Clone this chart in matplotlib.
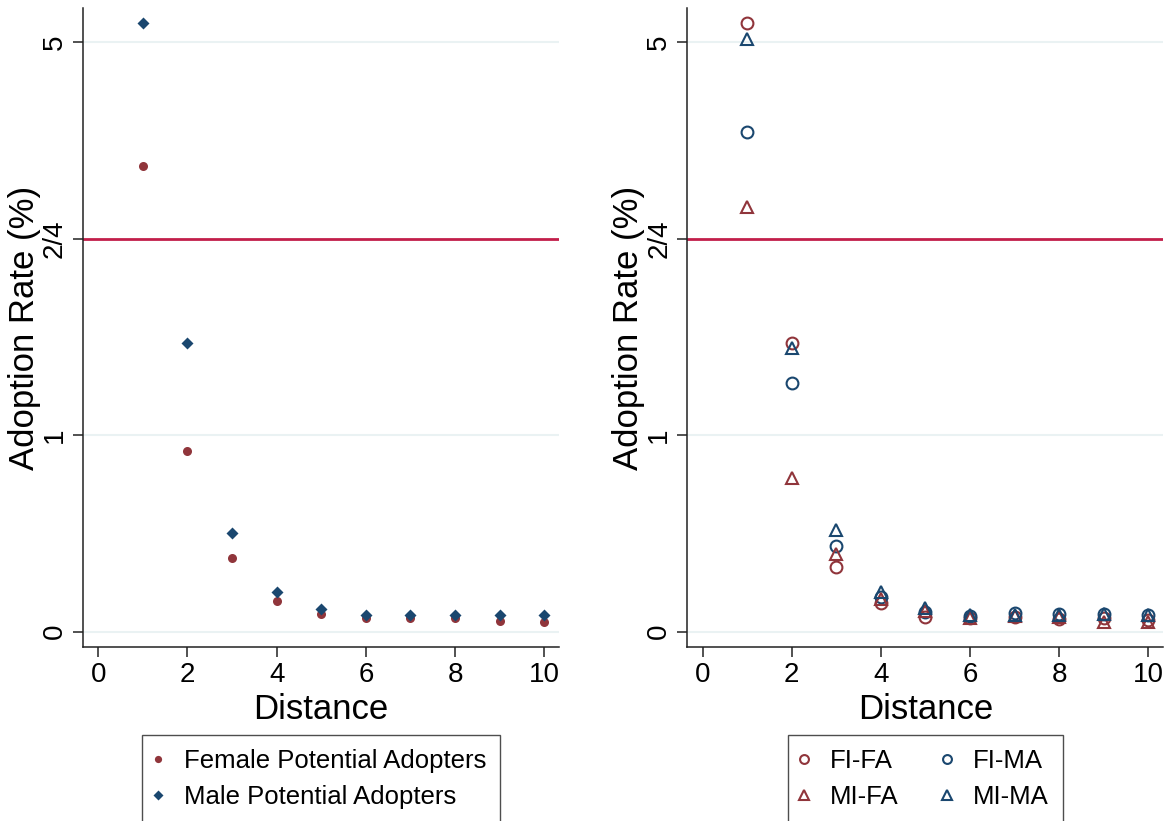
import matplotlib
matplotlib.use('Agg')
import matplotlib.pyplot as plt
import numpy as np

plt.rcParams['font.family'] = ['Liberation Sans', 'DejaVu Sans']

# Daten (Adoption Rate in %)
distance = [1, 2, 3, 4, 5, 6, 7, 8, 9, 10]
female = [4.37, 0.921, 0.377, 0.158, 0.088, 0.068, 0.070, 0.068, 0.056, 0.049]
male = [5.10, 1.471, 0.501, 0.202, 0.114, 0.085, 0.085, 0.085, 0.087, 0.083]

fi_fa = [5.10, 1.468, 0.331, 0.145, 0.076, 0.070, 0.076, 0.063, 0.070, 0.060]
fi_ma = [4.545, 1.267, 0.438, 0.178, 0.100, 0.080, 0.093, 0.088, 0.090, 0.083]
mi_fa = [4.16, 0.781, 0.394, 0.166, 0.105, 0.070, 0.080, 0.075, 0.051, 0.050]
mi_ma = [5.015, 1.445, 0.518, 0.204, 0.119, 0.085, 0.085, 0.085, 0.090, 0.085]

ytick_vals = [0, 1, 4, 5]
ytick_labels = ['0', '1', '2/4', '5']
xtick_vals = [0, 2, 4, 6, 8, 10]

red = '#90353b'
blue = '#1a476f'
grid = '#eaf2f3'
cut = '#c21e4a'


# Achsenbruch: 2..4 wird ausgelassen
def fwd(y):
    y = np.asarray(y, dtype=float)
    return np.where(y <= 2, y, np.where(y >= 4, y - 2, 2.0))


def inv(t):
    t = np.asarray(t, dtype=float)
    return np.where(t <= 2, t, t + 2)


fig = plt.figure(figsize=(11.71, 8.21), dpi=100)
ax1 = fig.add_axes([0.0709, 0.2119, 0.4065, 0.7783])
ax2 = fig.add_axes([0.5871, 0.2119, 0.4061, 0.7783])


def style(ax):
    ax.set_yscale('function', functions=(fwd, inv))
    ax.set_ylim(-0.078, 5.174)
    ax.set_xlim(-0.34, 10.33)
    for y in [0, 1, 5]:
        ax.axhline(y, color=grid, lw=1.5, zorder=0)
    ax.axhline(4, color=cut, lw=2, zorder=1)
    ax.set_yticks(ytick_vals)
    ax.set_yticklabels(ytick_labels, rotation=90, va='center')
    ax.set_xticks(xtick_vals)
    ax.minorticks_off()
    ax.tick_params(axis='both', direction='out', length=7, width=1.1, labelsize=20, pad=4, color='#222222')
    for s in ['top', 'right']:
        ax.spines[s].set_visible(False)
    for s in ['left', 'bottom']:
        ax.spines[s].set_linewidth(1.1)
        ax.spines[s].set_color('#222222')
    ax.set_xlabel('Distance', fontsize=25)
    ax.set_ylabel('Adoption Rate (%)', fontsize=25)
    ax.yaxis.set_label_coords(-0.089, 0.5)
    ax.xaxis.set_label_coords(0.5, -0.072)


legend_kw = dict(loc='upper center', bbox_to_anchor=(0.5, -0.1377), fontsize=18.5, frameon=True,
                 fancybox=False, edgecolor='#222222', handlelength=0.2, handletextpad=0.9,
                 labelspacing=0.45, borderpad=0.55, borderaxespad=0)

style(ax1)
ax1.plot(distance, female, 'o', color=red, ms=6.5, mec='none', label='Female Potential Adopters', zorder=3)
ax1.plot(distance, male, 'D', color=blue, ms=6.3, mec='none', label='Male Potential Adopters', zorder=4)
leg1 = ax1.legend(markerscale=0.8, **legend_kw)
leg1.get_frame().set_linewidth(1.0)

style(ax2)
h1, = ax2.plot(distance, fi_fa, 'o', mfc='none', mec=red, mew=1.5, ms=8.5, label='FI-FA', zorder=3)
h2, = ax2.plot(distance, fi_ma, 'o', mfc='none', mec=blue, mew=1.5, ms=8.5, label='FI-MA', zorder=3)
h3, = ax2.plot(distance, mi_fa, '^', mfc='none', mec=red, mew=1.5, ms=9, label='MI-FA', zorder=4)
h4, = ax2.plot(distance, mi_ma, '^', mfc='none', mec=blue, mew=1.5, ms=9, label='MI-MA', zorder=4)
leg2 = ax2.legend(handles=[h1, h3, h2, h4], ncol=2, columnspacing=1.8, markerscale=0.75, **legend_kw)
leg2.get_frame().set_linewidth(1.0)

fig.savefig('out.png', dpi=100, facecolor='white')
